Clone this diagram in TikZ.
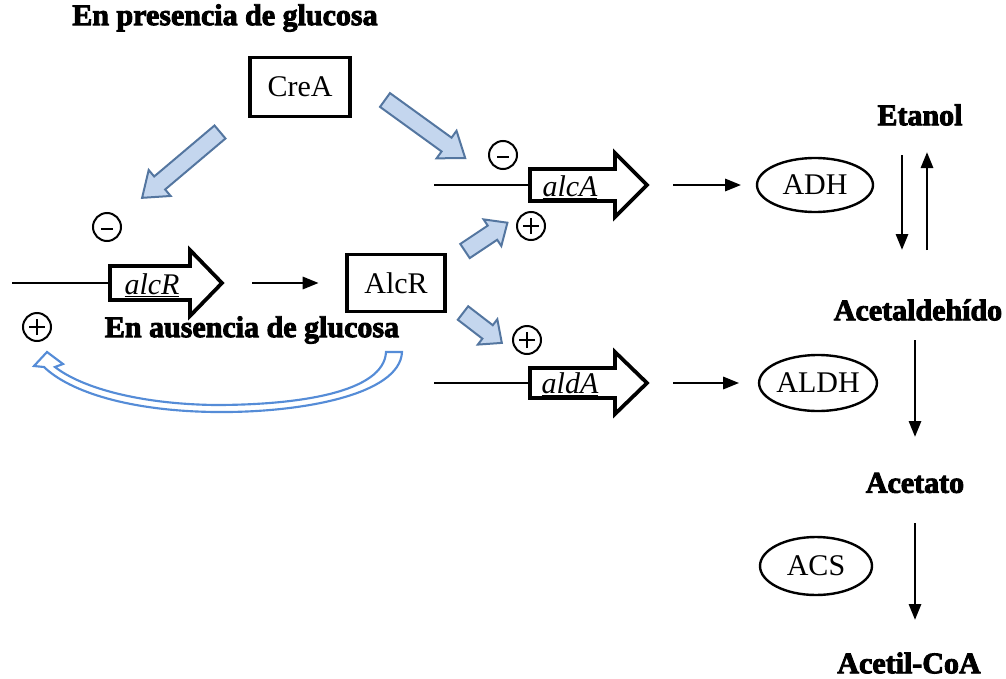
\documentclass[tikz,border=0pt]{standalone}
\usepackage{fontspec}
\setmainfont{Liberation Serif}[BoldFeatures={FakeBold=3}]
\usetikzlibrary{arrows.meta,shapes.geometric,calc}
\definecolor{bafill}{RGB}{196,214,238}
\definecolor{badraw}{RGB}{84,118,160}
\definecolor{loopblue}{RGB}{85,140,215}
\newcommand\fsz{\fontsize{22.5}{27}\selectfont}
\newcommand\barrow[7]{%
  \begin{scope}[shift={(#1,#2)},rotate=#3]
    \draw[ba] (0,-#5) -- ({#4-#7},-#5) -- ({#4-#7},-#6) -- (#4,0) -- ({#4-#7},#6) -- ({#4-#7},#5) -- (0,#5) -- cycle;
  \end{scope}}
\begin{document}
\begin{tikzpicture}[x=0.75pt,y=-0.75pt,
  lbl/.style={font=\fsz\bfseries, inner sep=0pt},
  box/.style={draw, line width=2.4pt, font=\fsz, inner sep=0pt},
  enz/.style={draw, ellipse, line width=1.8pt, inner sep=0pt, font=\fsz},
  conn/.style={-{Triangle[length=12pt,width=9pt]}, line width=2.2pt},
  gene/.style={draw, line width=2.8pt, line join=miter},
  dna/.style={line width=2.2pt},
  gtext/.style={font=\fsz\itshape, inner sep=0pt, anchor=base},
  ba/.style={draw=badraw, fill=bafill, line width=1.5pt, line join=miter},
  sign/.style={circle, draw, line width=1.5pt, minimum size=21pt, inner sep=0pt},
  plus/.style={sign, path picture={\draw[line width=1.5pt]
     ([xshift=-6pt]path picture bounding box.center) -- ([xshift=6pt]path picture bounding box.center)
     ([yshift=-6pt]path picture bounding box.center) -- ([yshift=6pt]path picture bounding box.center);}},
  minus/.style={sign, path picture={\draw[line width=1.5pt]
     ([xshift=-4.5pt,yshift=-1.5pt]path picture bounding box.center) -- ([xshift=4.5pt,yshift=-1.5pt]path picture bounding box.center);}}
]
\useasboundingbox (0,0) rectangle (1006,678);

% titles
\node[lbl] (pres) at (225,18) {En presencia de glucosa};
\node[lbl] (aus) at (252,330) {En ausencia de glucosa};

% boxes
\node[box, minimum width=75pt, minimum height=44pt] (CreA) at (300,87) {CreA};
\node[box, minimum width=73.5pt, minimum height=43pt] (AlcR) at (396,283) {AlcR};

% enzymes
\node[enz, minimum width=87pt, minimum height=40.5pt] (ADH) at (815,185) {ADH};
\node[enz, minimum width=85.5pt, minimum height=42pt] (ALDH) at (818,383) {ALDH};
\node[enz, minimum width=84pt, minimum height=43.5pt] (ACS) at (816,566) {ACS};

% metabolites
\node[lbl] (Etanol) at (920,115) {Etanol};
\node[lbl] (Acetald) at (918,310) {Acetaldehído};
\node[lbl] (Acetato) at (915,483) {Acetato};
\node[lbl] (AcCoA) at (909,663) {Acetil-CoA};

% genes
\coordinate (alcRstart) at (12,283);
\coordinate (alcRtip) at (222,283);
\draw[dna] (alcRstart) -- (110,283);
\draw[gene] (110,266) -- (190,266) -- (190,250) -- (alcRtip) -- (190,316) -- (190,300) -- (110,300) -- cycle;
\node[gtext] (alcRtxt) at (152,294) {\underline{alcR}};

\coordinate (alcAstart) at (434,185);
\coordinate (alcAtip) at (647,185);
\draw[dna] (alcAstart) -- (530,185);
\draw[gene] (530,169) -- (615,169) -- (615,153) -- (alcAtip) -- (615,217) -- (615,201) -- (530,201) -- cycle;
\node[gtext] (alcAtxt) at (570,196) {\underline{alcA}};

\coordinate (aldAstart) at (434,383);
\coordinate (aldAtip) at (647,383);
\draw[dna] (aldAstart) -- (530,383);
\draw[gene] (530,368) -- (615,368) -- (615,352) -- (aldAtip) -- (615,414) -- (615,398) -- (530,398) -- cycle;
\node[gtext] (aldAtxt) at (570,393) {\underline{aldA}};

% black connectors
\draw[conn, shorten <=22.5pt, shorten >=20pt] (alcRtip) -- (AlcR.west |- alcRtip);
\draw[conn, shorten <=19.5pt, shorten >=11pt] (alcAtip) -- (ADH.west);
\draw[conn, shorten <=19.5pt, shorten >=14pt] (aldAtip) -- (ALDH.west);

\coordinate (v1a) at (902,155); \coordinate (v1b) at (902,250);
\coordinate (v2a) at (927,250); \coordinate (v2b) at (927,152);
\coordinate (v3a) at (915,340); \coordinate (v3b) at (915,437);
\coordinate (v4a) at (915,523); \coordinate (v4b) at (915,620);
\draw[conn] (v1a) -- (v1b);
\draw[conn] (v2a) -- (v2b);
\draw[conn] (v3a) -- (v3b);
\draw[conn] (v4a) -- (v4b);

% signs
\node[minus] (m1) at (107,227) {};
\node[minus] (m2) at (503,155) {};
\node[plus] (p1) at (531,226) {};
\node[plus] (p2) at (527,340) {};
\node[plus] (p3) at (37,327) {};

% blue block arrows
\barrow{220}{132}{-139.8}{102}{8.5}{17}{23}
\barrow{385}{100}{-35.9}{99}{8.5}{17}{23}
\barrow{465}{251}{33.7}{51}{8.5}{16}{18}
\barrow{463}{313}{-37.6}{49}{8.5}{16}{18}

% feedback loop arrow
\draw[draw=loopblue, fill=white, line width=1.6pt, line join=miter]
  (402,352) .. controls (400,395) and (300,413) .. (215,412)
  .. controls (130,411) and (70,392) .. (44,367)
  -- (34,366) -- (47,352) -- (63,364) -- (55,367)
  .. controls (82,388) and (140,404) .. (215,405)
  .. controls (300,405) and (384,392) .. (386,352) -- cycle;
\end{tikzpicture}
\end{document}
